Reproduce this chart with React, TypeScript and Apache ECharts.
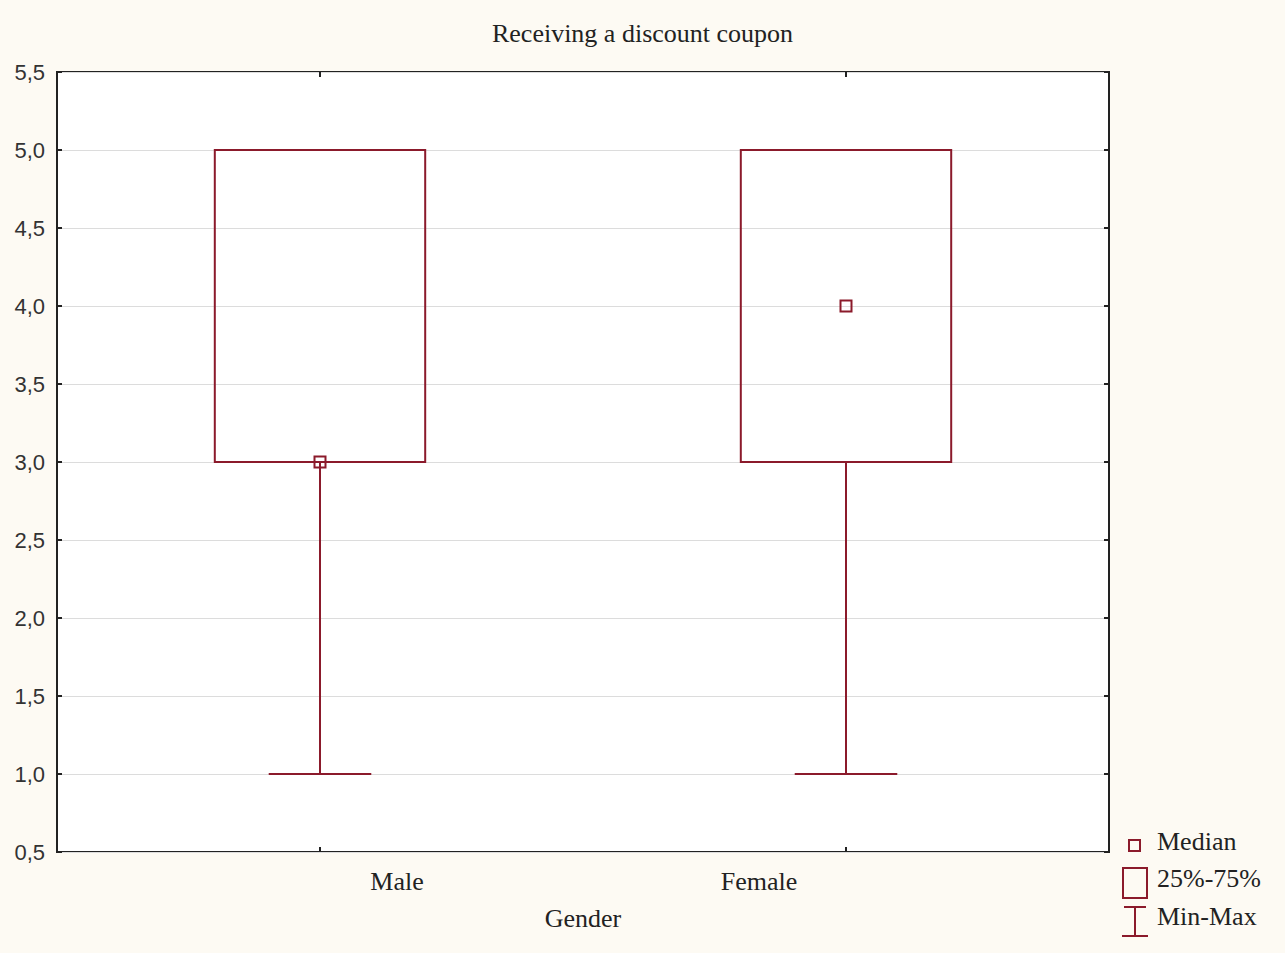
import { useRef, useEffect } from 'react'
import * as echarts from 'echarts'

const categories = ['Male', 'Female']
// [min, q25, median, q75, max]
const minValues = [1, 1]
const q25Values = [3, 3]
const medianValues = [3, 4]
const q75Values = [5, 5]
const maxValues = [5, 5]
const yTicks = [0.5, 1.0, 1.5, 2.0, 2.5, 3.0, 3.5, 4.0, 4.5, 5.0, 5.5]

const RED = '#8b1a2b'
const INK = '#222'
const SERIF = '"Liberation Serif", "Times New Roman", serif'
const SANS = '"Liberation Sans", Arial, sans-serif'

function App() {
  const chartRef = useRef<HTMLDivElement>(null)

  useEffect(() => {
    if (!chartRef.current) return
    document.body.style.margin = '0'
    const chart = echarts.init(chartRef.current, null, { renderer: 'svg' })

    const boxData = categories.map((_, i) => [
      i, minValues[i], q25Values[i], medianValues[i], q75Values[i], maxValues[i],
    ])

    const option: any = {
      animation: false,
      backgroundColor: '#fdfaf3',
      title: {
        text: 'Receiving a discount coupon',
        left: 'center',
        top: 15,
        textStyle: { fontFamily: SERIF, fontSize: 26, fontWeight: 'normal', color: INK },
      },
      grid: {
        left: 57, right: 176, top: 72, bottom: 101,
        show: true, backgroundColor: '#ffffff', borderColor: INK, borderWidth: 2,
      },
      xAxis: [
        {
          type: 'category',
          data: categories,
          position: 'bottom',
          name: 'Gender',
          nameLocation: 'middle',
          nameGap: 53,
          nameTextStyle: { fontFamily: SERIF, fontSize: 26, color: INK },
          axisLine: { show: false },
          axisTick: { show: true, inside: true, alignWithLabel: true, length: 5, lineStyle: { color: INK, width: 2 } },
          axisLabel: {
            margin: 16,
            fontFamily: SERIF,
            fontSize: 26,
            color: INK,
            formatter: (v: string) => (v === 'Male' ? `{m|${v}}` : `{f|${v}}`),
            rich: {
              m: { fontFamily: SERIF, fontSize: 26, color: INK, padding: [0, 0, 0, 154] },
              f: { fontFamily: SERIF, fontSize: 26, color: INK, padding: [0, 174, 0, 0] },
            },
          },
          splitLine: { show: false },
        },
        {
          type: 'category',
          data: categories,
          position: 'top',
          axisLine: { show: false },
          axisTick: { show: true, inside: true, alignWithLabel: true, length: 5, lineStyle: { color: INK, width: 2 } },
          axisLabel: { show: false },
          splitLine: { show: false },
        },
      ],
      yAxis: [
        {
          type: 'value',
          min: yTicks[0],
          max: yTicks[yTicks.length - 1],
          interval: 0.5,
          axisLine: { show: false },
          axisTick: { show: true, inside: true, length: 5, lineStyle: { color: INK, width: 2 } },
          axisLabel: {
            margin: 12,
            fontFamily: SANS,
            fontSize: 22,
            color: '#333',
            formatter: (v: number) => v.toFixed(1).replace('.', ','),
          },
          splitLine: { show: true, lineStyle: { color: '#dcdcdc', width: 1 } },
        },
        {
          type: 'value',
          position: 'right',
          min: yTicks[0],
          max: yTicks[yTicks.length - 1],
          interval: 0.5,
          axisLine: { show: false },
          axisTick: { show: true, inside: true, length: 5, lineStyle: { color: INK, width: 2 } },
          axisLabel: { show: false },
          splitLine: { show: false },
        },
      ],
      series: [
        {
          type: 'custom',
          xAxisIndex: 0,
          yAxisIndex: 0,
          data: boxData,
          renderItem: (_params: any, api: any) => {
            const idx = api.value(0)
            const pMin = api.coord([idx, api.value(1)])
            const pQ1 = api.coord([idx, api.value(2)])
            const pMed = api.coord([idx, api.value(3)])
            const pQ3 = api.coord([idx, api.value(4)])
            const pMax = api.coord([idx, api.value(5)])
            const band = api.size([1, 0])[0]
            const boxW = band * 0.4
            const capW = band * 0.195
            const cx = pMin[0]
            const lineStyle = { stroke: RED, lineWidth: 2, fill: null }
            return {
              type: 'group',
              children: [
                { type: 'line', shape: { x1: cx, y1: pMin[1], x2: cx, y2: pQ1[1] }, style: lineStyle },
                { type: 'line', shape: { x1: cx, y1: pQ3[1], x2: cx, y2: pMax[1] }, style: lineStyle },
                { type: 'line', shape: { x1: cx - capW / 2, y1: pMin[1], x2: cx + capW / 2, y2: pMin[1] }, style: lineStyle },
                { type: 'line', shape: { x1: cx - capW / 2, y1: pMax[1], x2: cx + capW / 2, y2: pMax[1] }, style: lineStyle },
                {
                  type: 'rect',
                  shape: { x: cx - boxW / 2, y: pQ3[1], width: boxW, height: pQ1[1] - pQ3[1] },
                  style: { stroke: RED, lineWidth: 2, fill: 'none' },
                },
                {
                  type: 'rect',
                  shape: { x: cx - 5.5, y: pMed[1] - 5.5, width: 11, height: 11 },
                  style: { stroke: RED, lineWidth: 2, fill: 'none' },
                },
              ],
            }
          },
        },
      ],
      graphic: [
        { type: 'rect', shape: { x: 1129, y: 840, width: 11, height: 11 }, style: { stroke: RED, lineWidth: 2, fill: 'none' } },
        { type: 'text', x: 1157, y: 841, style: { text: 'Median', font: `26px ${SERIF}`, fill: INK, verticalAlign: 'middle' } },
        { type: 'rect', shape: { x: 1123, y: 868, width: 24, height: 30 }, style: { stroke: RED, lineWidth: 2, fill: 'none' } },
        { type: 'text', x: 1157, y: 878, style: { text: '25%-75%', font: `26px ${SERIF}`, fill: INK, verticalAlign: 'middle' } },
        { type: 'line', shape: { x1: 1124, y1: 907, x2: 1146, y2: 907 }, style: { stroke: RED, lineWidth: 2 } },
        { type: 'line', shape: { x1: 1135, y1: 907, x2: 1135, y2: 936 }, style: { stroke: RED, lineWidth: 2 } },
        { type: 'line', shape: { x1: 1122, y1: 936, x2: 1148, y2: 936 }, style: { stroke: RED, lineWidth: 2 } },
        { type: 'text', x: 1157, y: 916, style: { text: 'Min-Max', font: `26px ${SERIF}`, fill: INK, verticalAlign: 'middle' } },
      ],
    }

    chart.setOption(option)
    const handleResize = () => chart.resize()
    window.addEventListener('resize', handleResize)
    return () => {
      window.removeEventListener('resize', handleResize)
      chart.dispose()
    }
  }, [])

  return <div ref={chartRef} style={{ position: 'fixed', left: 0, top: 0, width: 1285, height: 953 }} />
}

export default App
